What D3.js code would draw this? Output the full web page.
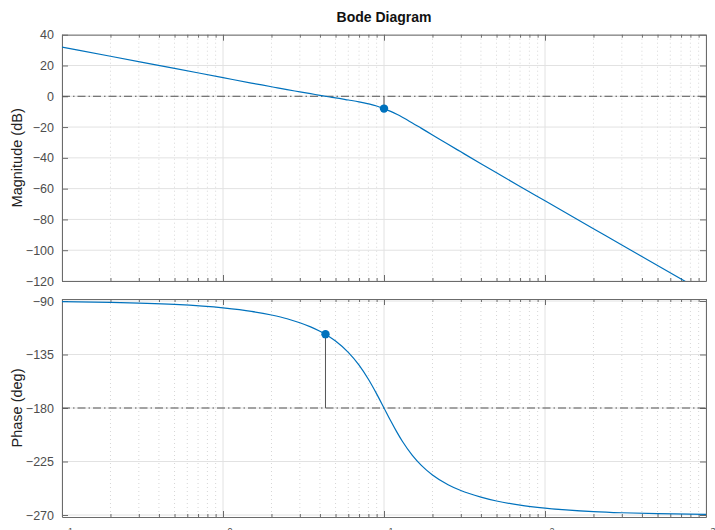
<!DOCTYPE html>
<html>
<head>
<meta charset="utf-8">
<script src="https://cdn.jsdelivr.net/npm/d3@7"></script>
<style>
  body { margin: 0; background: #fff; }
  svg { display: block; font-family: "Liberation Sans", Arial, sans-serif; }
</style>
</head>
<body>
<div id="chart"></div>
<script>
// values
const freq = [0.1, 0.2, 0.5, 1, 1.5, 2, 2.5, 3, 3.5, 4, 4.5, 5, 6, 7, 8, 9, 10, 11, 12, 13, 15, 17, 20, 25, 30, 40, 50, 70, 100, 200, 300, 500, 1000];
const magDb = [32.0, 26.0, 18.1, 12.1, 8.6, 6.2, 4.3, 2.9, 1.7, 0.6, -0.3, -1.0, -2.4, -3.6, -4.9, -6.3, -8.0, -9.8, -11.7, -13.6, -17.3, -20.7, -25.1, -31.2, -36.1, -43.8, -49.7, -58.6, -67.9, -86.0, -96.6, -109.9, -128.0];
const phaseDeg = [-90.6, -91.1, -92.9, -95.8, -98.7, -101.8, -104.9, -108.3, -111.8, -115.5, -119.4, -123.7, -133.2, -143.9, -155.8, -168.1, -180.0, -190.8, -200.1, -208.0, -219.8, -228.0, -236.3, -244.5, -249.4, -254.9, -258.2, -261.7, -264.2, -267.1, -268.1, -268.9, -269.4];

const magTicks = [40, 20, 0, -20, -40, -60, -80, -100, -120];
const phaseTicks = [-90, -135, -180, -225, -270];
const decades = [0.1, 1, 10, 100, 1000];
const decadeExp = ["-1", "0", "1", "2", "3"];

// margin markers
const gmFreq = 10, gmDb = -8.0;
const pmFreq = 4.33, pmPhase = -117.9;

const W = 715, H = 530;
const left = 62, right = 706;
const blue = "#0072BD";
const axisCol = "#6b6b6b";
const textCol = "#4d4d4d";

const svg = d3.select("#chart").append("svg")
  .attr("width", W)
  .attr("height", H);

const x = d3.scaleLog().domain([0.1, 1000]).range([left, right]);

// minor ticks 2..9 per decade
const minors = [];
for (let d = 0; d < 4; d++) {
  for (let k = 2; k <= 9; k++) minors.push(decades[d] * k);
}

function panel(top, bottom, domain, ticks, label, idx) {
  const y = d3.scaleLinear().domain(domain).range([top, bottom]);
  const g = svg.append("g");

  // grid
  g.append("g").selectAll("line").data(minors).enter().append("line")
    .attr("x1", d => x(d)).attr("x2", d => x(d))
    .attr("y1", top).attr("y2", bottom)
    .attr("stroke", "#d6d6d6").attr("stroke-dasharray", "1,3");
  g.append("g").selectAll("line").data(decades).enter().append("line")
    .attr("x1", d => x(d)).attr("x2", d => x(d))
    .attr("y1", top).attr("y2", bottom)
    .attr("stroke", "#e2e2e2");
  g.append("g").selectAll("line").data(ticks).enter().append("line")
    .attr("x1", left).attr("x2", right)
    .attr("y1", d => y(d)).attr("y2", d => y(d))
    .attr("stroke", "#e2e2e2");

  // y axes (inward ticks)
  g.append("g")
    .attr("transform", `translate(${left},0)`)
    .call(d3.axisLeft(y).tickValues(ticks).tickSizeInner(-6).tickSizeOuter(0).tickPadding(8))
    .call(a => a.select(".domain").attr("stroke", axisCol))
    .call(a => a.selectAll(".tick line").attr("stroke", axisCol))
    .call(a => a.selectAll(".tick text").attr("fill", textCol)
      .style("font-size", "12.5px").style("font-family", "Liberation Sans, Arial, sans-serif"));
  g.append("g")
    .attr("transform", `translate(${right},0)`)
    .call(d3.axisRight(y).tickValues(ticks).tickSizeInner(-6).tickSizeOuter(0).tickFormat(""))
    .call(a => a.select(".domain").attr("stroke", axisCol))
    .call(a => a.selectAll(".tick line").attr("stroke", axisCol));

  // x axes (top and bottom)
  [[top, d3.axisTop], [bottom, d3.axisBottom]].forEach(([yy, ax]) => {
    g.append("g")
      .attr("transform", `translate(0,${yy})`)
      .call(ax(x).tickValues(minors).tickSizeInner(-3).tickSizeOuter(0).tickFormat(""))
      .call(a => a.select(".domain").attr("stroke", axisCol))
      .call(a => a.selectAll(".tick line").attr("stroke", axisCol));
    g.append("g")
      .attr("transform", `translate(0,${yy})`)
      .call(ax(x).tickValues(decades).tickSizeInner(-6).tickSizeOuter(0).tickFormat(""))
      .call(a => a.select(".domain").remove())
      .call(a => a.selectAll(".tick line").attr("stroke", axisCol));
  });

  // y label
  svg.append("text")
    .attr("transform", `translate(22,${(top + bottom) / 2}) rotate(-90)`)
    .attr("text-anchor", "middle")
    .style("font-size", "14.5px")
    .attr("fill", "#222")
    .text(label);

  const clipId = "clip" + idx;
  svg.append("clipPath").attr("id", clipId)
    .append("rect").attr("x", left).attr("y", top)
    .attr("width", right - left).attr("height", bottom - top);

  return { y, clipId };
}

const mag = panel(34.7, 281, [40, -120], magTicks, "Magnitude (dB)", 0);
const ph = panel(301 - 2, 517, [-90 + 2 * 180 / 214, -270 - 2 * 180 / 214], phaseTicks, "Phase (deg)", 1);

const dashDot = "8,3,1.5,3";

// magnitude panel
const mg = svg.append("g").attr("clip-path", `url(#${mag.clipId})`);
mg.append("line")
  .attr("x1", left).attr("x2", right)
  .attr("y1", mag.y(0)).attr("y2", mag.y(0))
  .attr("stroke", "#555").attr("stroke-dasharray", dashDot);
mg.append("line")
  .attr("x1", x(gmFreq)).attr("x2", x(gmFreq))
  .attr("y1", mag.y(0)).attr("y2", mag.y(gmDb))
  .attr("stroke", "#555");
mg.append("path")
  .datum(freq.map((f, i) => [f, magDb[i]]))
  .attr("fill", "none").attr("stroke", blue).attr("stroke-width", 1.2)
  .attr("d", d3.line().x(d => x(d[0])).y(d => mag.y(d[1])).curve(d3.curveMonotoneX));
mg.append("circle")
  .attr("cx", x(gmFreq)).attr("cy", mag.y(gmDb)).attr("r", 4.2)
  .attr("fill", blue);

// phase panel
const pg = svg.append("g").attr("clip-path", `url(#${ph.clipId})`);
pg.append("line")
  .attr("x1", left).attr("x2", right)
  .attr("y1", ph.y(-180)).attr("y2", ph.y(-180))
  .attr("stroke", "#555").attr("stroke-dasharray", dashDot);
pg.append("line")
  .attr("x1", x(pmFreq)).attr("x2", x(pmFreq))
  .attr("y1", ph.y(-180)).attr("y2", ph.y(pmPhase))
  .attr("stroke", "#555");
pg.append("path")
  .datum(freq.map((f, i) => [f, phaseDeg[i]]))
  .attr("fill", "none").attr("stroke", blue).attr("stroke-width", 1.2)
  .attr("d", d3.line().x(d => x(d[0])).y(d => ph.y(d[1])).curve(d3.curveMonotoneX));
pg.append("circle")
  .attr("cx", x(pmFreq)).attr("cy", ph.y(pmPhase)).attr("r", 4.2)
  .attr("fill", blue);

// x tick labels (mostly below the window)
const xl = svg.append("g");
decades.forEach((d, i) => {
  const t = xl.append("text")
    .attr("x", x(d))
    .attr("y", 540)
    .attr("text-anchor", "middle")
    .attr("fill", textCol)
    .style("font-size", "12.5px");
  t.append("tspan").text("10");
  t.append("tspan").attr("dy", -6).style("font-size", "9px").text(decadeExp[i]);
});

// title
svg.append("text")
  .attr("x", (left + right) / 2)
  .attr("y", 22)
  .attr("text-anchor", "middle")
  .style("font-size", "14px")
  .style("font-weight", "bold")
  .attr("fill", "#111")
  .text("Bode Diagram");
</script>
</body>
</html>
